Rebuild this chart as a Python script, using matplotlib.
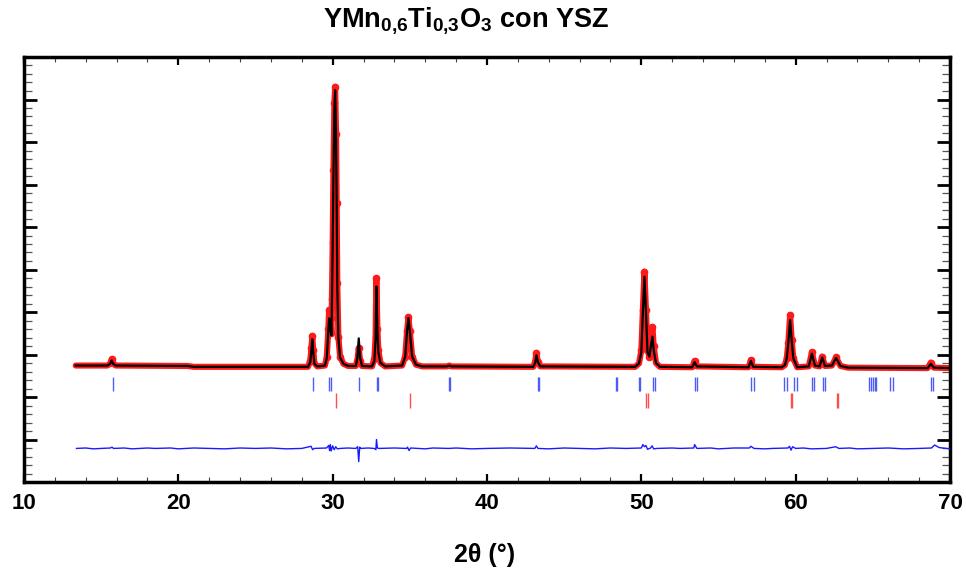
"""
plot.py — Rietveld refinement plot for YMn0.6Ti0.3O3 + YSZ.
Observed (red), calculated (black), Bragg positions and difference curve.
"""
import matplotlib
matplotlib.use("Agg")
import matplotlib.pyplot as plt
from matplotlib.ticker import MultipleLocator

plt.rcParams["font.family"] = ["Liberation Sans", "DejaVu Sans"]
plt.rcParams["mathtext.fontset"] = "custom"
plt.rcParams["mathtext.bf"] = "Liberation Sans:bold"
plt.rcParams["mathtext.rm"] = "Liberation Sans:bold"
plt.rcParams["mathtext.default"] = "bf"

# ── data (y in arbitrary units, 0..10) ───────────────────────────────────────
two_theta = [13.35, 15.40, 15.58, 15.68, 15.78, 15.95, 20.60, 21.00,
             28.40, 28.55, 28.62, 28.68, 28.74, 28.82, 29.00, 29.50,
             29.62, 29.72, 29.77, 29.82, 29.86, 29.92, 29.95, 30.00,
             30.05, 30.11, 30.16, 30.22, 30.26, 30.30, 30.37, 30.48,
             30.70, 31.00, 31.50, 31.60, 31.69, 31.78, 31.90, 32.55,
             32.70, 32.78, 32.83, 32.90, 32.96, 33.10, 33.40, 34.50,
             34.70, 34.82, 34.91, 35.00, 35.15, 35.40, 35.80, 37.40,
             37.55, 37.70, 43.00, 43.12, 43.20, 43.30, 43.45, 49.60,
             49.85, 50.00, 50.10, 50.20, 50.30, 50.40, 50.52, 50.62,
             50.72, 50.80, 50.95, 51.20, 53.30, 53.45, 53.60, 56.95,
             57.10, 57.25, 59.10, 59.30, 59.42, 59.52, 59.64, 59.74,
             59.85, 60.10, 60.85, 61.05, 61.25, 61.55, 61.72, 61.90,
             62.35, 62.62, 62.90, 63.40, 68.55, 68.76, 68.95, 70.00]

y_obs = [2.74, 2.74, 2.78, 2.89, 2.78, 2.74, 2.73, 2.71,
         2.71, 2.85, 3.15, 3.44, 3.10, 2.80, 2.72, 2.74,
         2.95, 3.60, 4.05, 3.60, 3.85, 3.50, 4.30, 5.62,
         7.34, 8.91, 9.30, 8.20, 6.56, 4.68, 3.42, 2.95,
         2.78, 2.73, 2.73, 2.85, 3.15, 2.85, 2.73, 2.72,
         2.90, 3.42, 4.79, 3.60, 3.10, 2.80, 2.72, 2.74,
         2.95, 3.55, 3.88, 3.55, 2.95, 2.76, 2.72, 2.72,
         2.74, 2.72, 2.71, 2.82, 3.04, 2.82, 2.72, 2.71,
         2.79, 3.10, 4.05, 4.95, 4.05, 3.10, 2.95, 3.30,
         3.65, 3.20, 2.80, 2.71, 2.70, 2.85, 2.72, 2.70,
         2.87, 2.71, 2.70, 2.75, 2.91, 3.26, 3.93, 3.34,
         2.91, 2.70, 2.72, 3.05, 2.74, 2.72, 2.95, 2.73,
         2.74, 2.93, 2.73, 2.69, 2.68, 2.81, 2.69, 2.68]

y_calc = [2.74, 2.74, 2.78, 2.86, 2.78, 2.74, 2.73, 2.71,
          2.71, 2.82, 3.10, 3.36, 3.05, 2.78, 2.72, 2.74,
          2.92, 3.55, 3.85, 3.55, 3.80, 3.45, 4.20, 5.50,
          7.20, 8.80, 9.22, 8.10, 6.50, 4.60, 3.40, 2.93,
          2.78, 2.73, 2.73, 2.92, 3.38, 2.92, 2.73, 2.72,
          2.85, 3.35, 4.60, 3.55, 3.05, 2.80, 2.72, 2.74,
          2.95, 3.55, 3.86, 3.55, 2.95, 2.76, 2.72, 2.72,
          2.74, 2.72, 2.71, 2.80, 2.98, 2.82, 2.72, 2.71,
          2.79, 3.05, 4.00, 4.83, 4.00, 3.05, 2.95, 3.20,
          3.42, 3.10, 2.80, 2.71, 2.70, 2.82, 2.72, 2.70,
          2.85, 2.71, 2.70, 2.75, 2.91, 3.26, 3.81, 3.34,
          2.91, 2.70, 2.72, 3.02, 2.74, 2.72, 2.93, 2.73,
          2.74, 2.92, 2.73, 2.69, 2.68, 2.78, 2.69, 2.68]

diff_x = [13.4, 14.0, 14.5, 15.0, 15.6, 15.7, 15.8, 16.5, 17.0, 18.0,
          18.5, 19.5, 20.0, 21.0, 22.0, 23.0, 24.0, 25.0, 26.0, 27.0,
          28.0, 28.6, 28.7, 28.8, 29.6, 29.75, 29.8, 29.85, 29.9, 30.0,
          30.1, 30.2, 30.3, 30.5, 31.0, 31.5, 31.62, 31.69, 31.75, 31.8,
          32.3, 32.7, 32.8, 32.84, 32.9, 33.0, 34.0, 34.8, 34.85, 34.95,
          35.05, 36.0, 36.5, 37.5, 38.0, 39.0, 40.0, 41.5, 43.1, 43.2,
          43.3, 44.0, 45.0, 46.0, 47.0, 48.0, 49.0, 50.0, 50.1, 50.2,
          50.3, 50.4, 50.6, 50.7, 50.8, 51.0, 52.0, 52.5, 53.4, 53.45,
          53.6, 54.5, 55.0, 56.0, 57.0, 57.1, 57.3, 58.0, 58.5, 59.5,
          59.6, 59.7, 59.8, 60.0, 60.5, 61.0, 62.0, 62.6, 62.8, 63.5,
          64.0, 65.0, 66.0, 67.0, 68.0, 68.8, 69.0, 69.3, 70.0]
diff_y = [0.79, 0.80, 0.78, 0.79, 0.80, 0.82, 0.79, 0.80, 0.78, 0.80,
          0.79, 0.80, 0.78, 0.80, 0.79, 0.78, 0.80, 0.79, 0.80, 0.78,
          0.79, 0.84, 0.76, 0.79, 0.80, 0.86, 0.74, 0.88, 0.73, 0.85,
          0.76, 0.83, 0.78, 0.79, 0.80, 0.79, 0.83, 0.48, 0.82, 0.79,
          0.80, 0.79, 0.76, 1.00, 0.80, 0.79, 0.80, 0.79, 0.82, 0.74,
          0.80, 0.78, 0.80, 0.79, 0.80, 0.78, 0.79, 0.80, 0.79, 0.85,
          0.79, 0.78, 0.80, 0.79, 0.78, 0.80, 0.79, 0.80, 0.88, 0.83,
          0.86, 0.77, 0.80, 0.85, 0.78, 0.79, 0.80, 0.79, 0.80, 0.88,
          0.79, 0.80, 0.78, 0.80, 0.80, 0.84, 0.79, 0.78, 0.79, 0.80,
          0.84, 0.75, 0.83, 0.79, 0.80, 0.78, 0.79, 0.83, 0.79, 0.80,
          0.78, 0.79, 0.80, 0.78, 0.79, 0.80, 0.87, 0.81, 0.78]

# Bragg reflection positions
bragg_main = [15.75, 28.71, 29.79, 29.88, 31.73, 32.86, 32.92, 37.52, 37.61,
              43.28, 43.38, 48.35, 48.43, 49.86, 49.94, 50.74, 50.87,
              53.49, 53.60, 57.10, 57.27, 59.27, 59.43, 59.92, 60.08,
              61.05, 61.20, 61.76, 61.91, 64.78, 64.89, 65.00, 65.11,
              65.22, 66.12, 66.30, 68.76, 68.93]
bragg_ysz = [30.20, 35.02, 50.32, 50.43, 59.71, 59.79, 62.67, 62.77]

title = r"YMn$_{0{,}6}$Ti$_{0{,}3}$O$_{3}$ con YSZ"
xlabel = "2θ (°)"

# ── figure ───────────────────────────────────────────────────────────────────
fig = plt.figure(figsize=(9.66, 5.73), dpi=100)
ax = fig.add_axes([24 / 966, 1 - 482 / 573, 926 / 966, 425 / 573])

# dots only on the peak flanks; the baseline is a solid band
peak_pts = [i for i, v in enumerate(y_obs) if v > 2.8]
ax.plot(two_theta, y_obs, color="#ff1a1a", linewidth=4.4, marker="o",
        markersize=4.5, markevery=peak_pts, solid_capstyle="round",
        solid_joinstyle="round", zorder=2)
ax.plot(two_theta, y_calc, color="black", linewidth=1.6, zorder=3)
ax.plot(diff_x, diff_y, color="#1a1aff", linewidth=1.0, zorder=3)

ax.vlines(bragg_main, 2.13, 2.48, color="#4d5cf5", linewidth=1.0, zorder=2)
ax.vlines(bragg_ysz, 1.74, 2.09, color="#ff4d4d", linewidth=1.0, zorder=2)

ax.set_xlim(10, 70)
ax.set_ylim(0, 10)

ax.xaxis.set_major_locator(MultipleLocator(10))
ax.xaxis.set_minor_locator(MultipleLocator(2))
ax.yaxis.set_major_locator(MultipleLocator(1))
ax.yaxis.set_minor_locator(MultipleLocator(0.2))

ax.tick_params(axis="x", which="both", direction="in", top=True, bottom=True)
ax.tick_params(axis="x", which="major", length=6, width=1.6,
               labelsize=16, pad=8)
ax.tick_params(axis="x", which="minor", length=3.5, width=0.8, color="#444444")
ax.tick_params(axis="y", which="both", direction="in", left=True, right=True,
               labelleft=False)
ax.tick_params(axis="y", which="major", length=9.5, width=2.0)
ax.tick_params(axis="y", which="minor", length=5.8, width=0.9, color="#555555")
for lbl in ax.get_xticklabels():
    lbl.set_fontweight("bold")

for side in ["left", "right", "top", "bottom"]:
    ax.spines[side].set_linewidth(2.5)

fig.text(466 / 966, 1 - 21 / 573, title, ha="center", va="center",
         fontsize=19.5, fontweight="bold")
fig.text(485 / 966, 1 - 555 / 573, xlabel, ha="center", va="center",
         fontsize=18, fontweight="bold")

fig.savefig("out.png", dpi=100)
